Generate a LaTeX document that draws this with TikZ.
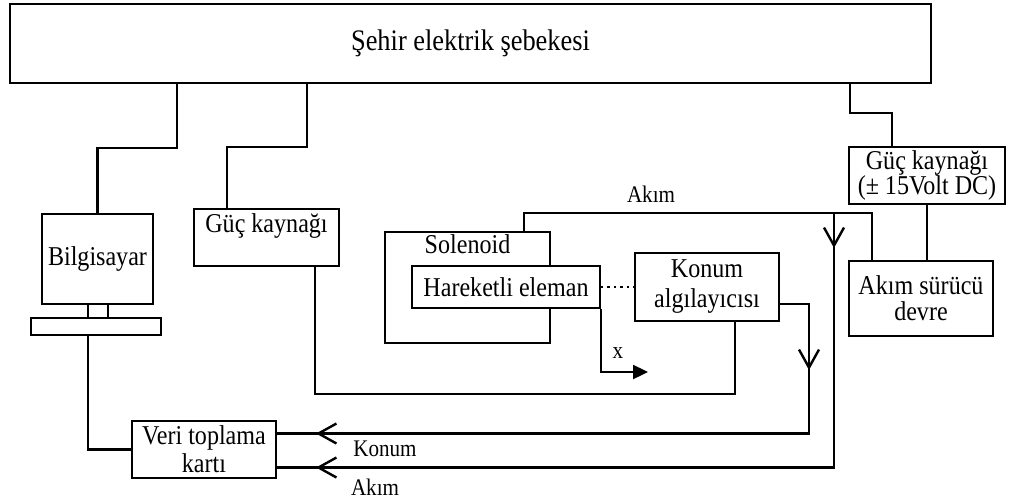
\documentclass[tikz,border=0pt]{standalone}
\usepackage{fontspec}
\setmainfont[FakeStretch=0.885]{Liberation Serif}
\usetikzlibrary{arrows.meta,decorations.markings}
\begin{document}
\begin{tikzpicture}[x=0.5pt, y=-0.5pt, font=\fontsize{13.6}{14}\selectfont,
  kutu/.style={draw, line width=1pt, fill=white, inner sep=1pt, align=center},
  hat/.style={line width=1.2pt},
  etiket/.style={font=\fontsize{11.9}{12}\selectfont},
  ok/.style 2 args={decoration={markings,
    mark=at position #1 with {\arrow{Straight Barb[length=9pt,width=10pt]}},
    mark=at position #2 with {\arrow{Straight Barb[length=9pt,width=10pt]}}},
    postaction={decorate}}]
  \useasboundingbox (0,0) rectangle (1009,499);

  % kutular
  \node[kutu, minimum width=460.5pt, minimum height=39.5pt, font=\fontsize{14.9}{15}\selectfont] (sebeke) at (470.5,43.5) {Şehir elektrik şebekesi};
  \node[kutu, minimum width=55.5pt, minimum height=45pt] (bilgisayar) at (97.5,259) {Bilgisayar};
  \node[kutu, minimum width=10pt, minimum height=7pt] (ayak) at (98,311) {};
  \node[kutu, minimum width=65pt, minimum height=8.5pt] (klavye) at (96,326.5) {};
  \node[kutu, minimum width=72.5pt, minimum height=28.5pt, label={[anchor=north, inner sep=2.5pt]north:Güç kaynağı}] (guc) at (266.5,237.5) {};
  \node[kutu, minimum width=82.5pt, minimum height=55.5pt, label={[anchor=north, inner sep=1.5pt]north:Solenoid}] (solenoid) at (467.5,287.5) {};
  \node[kutu, minimum width=94pt, minimum height=21pt] (hareketli) at (506,287) {Hareketli eleman};
  \node[kutu, minimum width=72pt, minimum height=34pt, font=\fontsize{13.6}{15}\selectfont] (konum) at (707,287) {Konum\\algılayıcısı};
  \node[kutu, minimum width=78pt, minimum height=28.5pt, font=\fontsize{13.6}{12.5}\selectfont] (gucdc) at (927,175.5) {Güç kaynağı\\(± 15Volt DC)};
  \node[kutu, minimum width=72pt, minimum height=37.5pt, font=\fontsize{13.6}{13}\selectfont] (surucu) at (921,298.5) {Akım sürücü\\devre};
  \node[kutu, minimum width=72pt, minimum height=28.5pt] (veri) at (204,449.5) {Veri toplama\\kartı};

  % sebeke baglantilari
  \draw[hat] (bilgisayar.north) -- ++(0,-65) -| ([xshift=-146.75pt]sebeke.south);
  \draw[hat] ([xshift=-19.75pt]guc.north) -- ++(0,-61) -| ([xshift=-81.75pt]sebeke.south);
  \draw[hat] ([xshift=-17.5pt]gucdc.north) -- ++(0,-33) -| ([xshift=189.75pt]sebeke.south);
  \draw[hat] (gucdc.south) -- (gucdc.south |- surucu.north);

  % akim hatti
  \draw[hat] ([xshift=28.25pt]solenoid.north) -- ++(0,-18) -| ([xshift=-24.5pt]surucu.north);
  \coordinate (akimnokta) at (834,214);
  \node[etiket] (akimust) at (651,194) {Akım};

  \draw[hat] ([xshift=24.25pt]guc.south) -- ++(0,127) -| ([xshift=14pt]konum.south);
  \draw[hat, dotted] (hareketli.east) -- (konum.west);
  \draw[hat, -{Triangle[length=7.5pt,width=7pt]}] (hareketli.south east) -- ++(0,63) -- ++(47,0);
  \node[etiket] (xyazi) at (618,353) {x};

  % olcum hatlari
  \draw[hat, ok={47.5pt}{-19.5pt}] ([yshift=-8.5pt]konum.east) -- ++(29,0) |- ([yshift=8pt]veri.east);
  \draw[hat, ok={17pt}{-19.5pt}] (akimnokta) |- ([yshift=-9pt]veri.east);
  \node[etiket] (konumyazi) at (385,449) {Konum};
  \node[etiket] (akimalt) at (375,487) {Akım};

  \draw[hat] ([xshift=-4pt]klavye.south) |- (veri.west);
\end{tikzpicture}
\end{document}
